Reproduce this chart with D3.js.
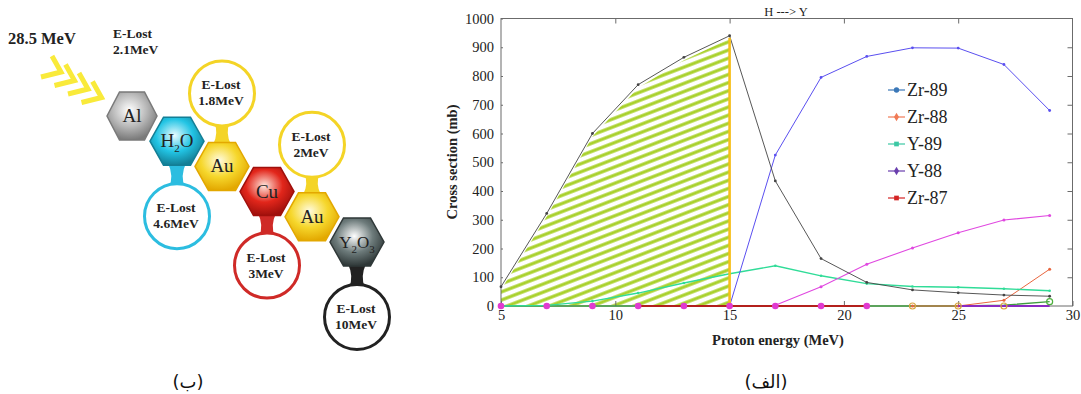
<!DOCTYPE html>
<html>
<head>
<meta charset="utf-8">
<script src="https://cdn.jsdelivr.net/npm/d3@7"></script>
<style>
  body { margin: 0; background: #fff; }
  svg { display: block; }
</style>
</head>
<body>
<svg id="canvas" width="1081" height="394"></svg>
<script>
// ---- data ----
const energies = [5, 7, 9, 11, 13, 15, 17, 19, 21, 23, 25, 27, 29];
const curveBlack = [67, 322, 600, 770, 865, 940, 435, 165, 82, 56, 46, 38, 34];
const curveBlue = [null, null, null, null, null, 0, 525, 795, 868, 898, 897, 840, 680];
const curveMagenta = [null, null, null, null, null, null, 3, 67, 145, 202, 255, 299, 315];
const curveTeal = [0, 2, 17, 45, 80, 112, 140, 105, 78, 68, 65, 60, 53];
const curveOrange = [null, null, null, null, null, null, null, null, null, 0, 0, 20, 128];
const curveGreen = [0, 0, 0, 0, 0, 0, 0, 0, 0, 0, 0, 3, 15];
const curveRed = [null, null, null, 0, 0, 0, 0, 0, 0, null, null, null, null];
const curvePurple = [null, null, null, null, null, null, null, null, null, null, 0, 0, 0];
const zeroDots = [0, 0, 0, 0, 0, 0, 0, 0, 0, null, null, null, null];
const hollowDots = [null, null, null, null, null, null, null, null, null, 0, 0, 0, 15];
const hatchUpTo = 15;

const legendLabels = ["Zr-89", "Zr-88", "Y-89", "Y-88", "Zr-87"];
const yTicks = [0, 100, 200, 300, 400, 500, 600, 700, 800, 900, 1000];
const xTicks = [5, 10, 15, 20, 25, 30];

// stack of targets (left diagram)
const targets = ["Al", "H2O", "Au", "Cu", "Au", "Y2O3"];
const eLost = ["2.1MeV", "4.6MeV", "1.8MeV", "3MeV", "2MeV", "10MeV"];
const beamEnergy = "28.5 MeV";

// ---- styles ----
const legendColors = ["#3b78b8", "#f07a55", "#3cc8a4", "#6a3fae", "#d42424"];
const legendShapes = [d3.symbolCircle, d3.symbolDiamond, d3.symbolSquare, d3.symbolDiamond, d3.symbolSquare];
const hexColors = {
  Al: ["#ffffff", "#b9b9b9", "#7a7a7a"],
  H2O: ["#e9fbff", "#22c4e4", "#137f96"],
  Au: ["#fffbe0", "#f6d72c", "#e3a800"],
  Cu: ["#ffe6dc", "#e2261b", "#a0100c"],
  Y2O3: ["#ffffff", "#6d7b7b", "#2f3838"]
};
const ringColors = ["none", "#2cbde0", "#f4d426", "#cf2a27", "#f4d426", "#222222"];

const svg = d3.select("#canvas");
const serif = "'Liberation Serif', 'Times New Roman', serif";

// ================= right: chart =================
const x = d3.scaleLinear().domain([5, 30]).range([501, 1072.5]);
const y = d3.scaleLinear().domain([0, 1000]).range([306, 18.5]);

const defs = svg.append("defs");
const pat = defs.append("pattern")
  .attr("id", "hatch")
  .attr("patternUnits", "userSpaceOnUse")
  .attr("width", 10).attr("height", 7.6)
  .attr("patternTransform", "rotate(-21)");
pat.append("rect").attr("width", 10).attr("height", 7.6).attr("fill", "#fff");
pat.append("line")
  .attr("x1", 0).attr("x2", 10).attr("y1", 3.8).attr("y2", 3.8)
  .attr("stroke", "#a9d12c").attr("stroke-width", 3.2);

const chart = svg.append("g");

// hatched area under the black curve
const hatchPts = energies.map((e, i) => [e, curveBlack[i]]).filter(d => d[0] <= hatchUpTo);
const area = d3.area().x(d => x(d[0])).y0(y(0) - 1).y1(d => y(d[1]) + 3);
chart.append("path")
  .datum(hatchPts)
  .attr("d", area)
  .attr("fill", "url(#hatch)");

// frame
chart.append("rect")
  .attr("x", x(5)).attr("y", y(1000))
  .attr("width", x(30) - x(5)).attr("height", y(0) - y(1000))
  .attr("fill", "none").attr("stroke", "#6b6b6b").attr("stroke-width", 1);

function styleAxis(g) {
  g.attr("font-family", serif);
  g.select(".domain").remove();
  g.selectAll(".tick line").attr("stroke", "#6b6b6b");
  g.selectAll("text").attr("font-family", serif).attr("font-size", 14.5).attr("fill", "#222");
}

chart.append("g")
  .attr("transform", `translate(${x(5)},0)`)
  .call(d3.axisLeft(y).tickValues(yTicks).tickFormat(d3.format("d"))
    .tickSizeInner(-2).tickSizeOuter(0).tickPadding(7))
  .call(styleAxis);
chart.append("g")
  .attr("transform", `translate(${x(30)},0)`)
  .call(d3.axisRight(y).tickValues(yTicks.slice(1, -1)).tickSizeInner(-5).tickSizeOuter(0).tickFormat(""))
  .call(styleAxis);
chart.append("g")
  .attr("transform", `translate(0,${y(0)})`)
  .call(d3.axisBottom(x).tickValues(xTicks).tickSizeInner(-5).tickSizeOuter(0).tickPadding(4))
  .call(styleAxis);
chart.append("g")
  .attr("transform", `translate(0,${y(1000)})`)
  .call(d3.axisTop(x).tickValues(xTicks.slice(1, -1)).tickSizeInner(-5).tickSizeOuter(0).tickFormat(""))
  .call(styleAxis);

const line = d3.line()
  .defined(d => d[1] !== null)
  .x(d => x(d[0])).y(d => y(d[1]));
const pts = vals => energies.map((e, i) => [e, vals[i]]);

function drawCurve(vals, color, width, dotR) {
  chart.append("path")
    .datum(pts(vals))
    .attr("d", line)
    .attr("fill", "none")
    .attr("stroke", color)
    .attr("stroke-width", width);
  if (dotR) {
    chart.selectAll(null)
      .data(pts(vals).filter(d => d[1] !== null))
      .enter().append("circle")
      .attr("cx", d => x(d[0])).attr("cy", d => y(d[1]))
      .attr("r", dotR).attr("fill", color);
  }
}

drawCurve(curveGreen, "#3f9d3f", 1.3, 0);
drawCurve(curveRed, "#b3201c", 1.8, 0);
drawCurve(curveOrange, "#e8663f", 1, 1.5);
drawCurve(curvePurple, "#8a2bc2", 1.8, 0);
drawCurve(curveTeal, "#30dc98", 1.4, 1.3);
drawCurve(curveMagenta, "#e048e0", 1.1, 1.5);
drawCurve(curveBlue, "#5a4ff0", 1, 1.4);
drawCurve(curveBlack, "#444", 0.9, 1.4);

// 15 MeV marker line
chart.append("line")
  .attr("x1", x(hatchUpTo)).attr("x2", x(hatchUpTo))
  .attr("y1", y(0)).attr("y2", y(curveBlack[energies.indexOf(hatchUpTo)]) + 2)
  .attr("stroke", "#f6bf1a").attr("stroke-width", 2.6);

// markers on the zero line
chart.selectAll(null)
  .data(pts(zeroDots).filter(d => d[1] !== null))
  .enter().append("circle")
  .attr("cx", d => x(d[0])).attr("cy", d => y(d[1]))
  .attr("r", 3.3).attr("fill", "#e03ad0");
chart.selectAll(null)
  .data(pts(hollowDots).filter(d => d[1] !== null))
  .enter().append("circle")
  .attr("cx", d => x(d[0])).attr("cy", d => y(d[1]))
  .attr("r", 3).attr("fill", "none")
  .attr("stroke", (d, i) => i === 3 ? "#4caf3c" : "#d9a640").attr("stroke-width", 1.2);

// title + axis labels
chart.append("text")
  .attr("x", 786).attr("y", 16)
  .attr("text-anchor", "middle")
  .attr("font-family", serif).attr("font-size", 12.5).attr("fill", "#222")
  .text("H ---> Y");
chart.append("text")
  .attr("transform", `translate(457,162) rotate(-90)`)
  .attr("text-anchor", "middle")
  .attr("font-family", serif).attr("font-weight", "bold").attr("font-size", 14.5).attr("fill", "#222")
  .text("Cross section (mb)");
chart.append("text")
  .attr("x", 778).attr("y", 345)
  .attr("text-anchor", "middle")
  .attr("font-family", serif).attr("font-weight", "bold").attr("font-size", 14.5).attr("fill", "#222")
  .text("Proton energy (MeV)");

// legend
const legend = chart.append("g").attr("transform", "translate(888,90)");
const item = legend.selectAll("g").data(legendLabels).enter().append("g")
  .attr("transform", (d, i) => `translate(0,${i * 27})`);
item.append("line").attr("x1", 0).attr("x2", 17)
  .attr("stroke", (d, i) => legendColors[i]).attr("stroke-width", 1.2);
item.append("path")
  .attr("transform", "translate(8.5,0)")
  .attr("d", (d, i) => d3.symbol(legendShapes[i], 22)())
  .attr("fill", (d, i) => legendColors[i]);
item.append("text")
  .attr("x", 19).attr("dy", "0.35em")
  .attr("font-family", serif).attr("font-size", 18).attr("fill", "#222")
  .text(d => d);

// ================= left: target stack =================
const diag = svg.append("g");
const hexW = 27, hexH = 24;
function hexPath(w, h) {
  return `M${-w},0 L${-w / 2},${-h} L${w / 2},${-h} L${w},0 L${w / 2},${h} L${-w / 2},${h} Z`;
}
const centers = targets.map((t, i) => [132 + i * 45, 116 + i * 25.2]);
// which side the energy bubble sits on (0 = plain label, -1 above, 1 below) and its distance
const bubbleSide = [0, 1, -1, 1, -1, 1];
const bubbleDist = [0, 75, 73, 74, 72, 75];

Object.keys(hexColors).forEach(k => {
  const g = defs.append("radialGradient").attr("id", "grad-" + k)
    .attr("cx", "45%").attr("cy", "38%").attr("r", "62%");
  g.append("stop").attr("offset", "0%").attr("stop-color", hexColors[k][0]);
  g.append("stop").attr("offset", "55%").attr("stop-color", hexColors[k][1]);
  g.append("stop").attr("offset", "100%").attr("stop-color", hexColors[k][2]);
});

// necks + bubbles
targets.forEach((t, i) => {
  const s = bubbleSide[i];
  if (!s) return;
  const [cx, cy] = centers[i];
  const r = 32.5;
  const by = cy + s * bubbleDist[i];
  const y1 = cy + s * (hexH - 2), y2 = by - s * (r - 4), ym = (y1 + y2) / 2;
  diag.append("path")
    .attr("d", `M${cx - 9},${y1} Q${cx - 3},${ym} ${cx - 8},${y2} L${cx + 8},${y2} Q${cx + 3},${ym} ${cx + 9},${y1} Z`)
    .attr("fill", ringColors[i]);
  diag.append("circle")
    .attr("cx", cx).attr("cy", by).attr("r", r)
    .attr("fill", "#fff").attr("stroke", ringColors[i]).attr("stroke-width", 3);
  const tx = diag.append("text")
    .attr("font-family", serif).attr("font-weight", "bold").attr("font-size", 13.5).attr("fill", "#222")
    .attr("text-anchor", "middle");
  tx.append("tspan").attr("x", cx - 1).attr("y", by - 4).text("E-Lost");
  tx.append("tspan").attr("x", cx - 1).attr("y", by + 12).text(eLost[i]);
});

// hexagons
targets.forEach((t, i) => {
  const [cx, cy] = centers[i];
  const g = diag.append("g").attr("transform", `translate(${cx},${cy})`);
  const w = i === 0 ? 25 : hexW;
  g.append("path").attr("d", hexPath(w, hexH))
    .attr("fill", `url(#grad-${t})`)
    .attr("stroke", hexColors[t][2]).attr("stroke-width", 1.5);
  const label = g.append("text")
    .attr("y", 6).attr("text-anchor", "middle")
    .attr("font-family", serif).attr("font-size", t.length > 3 ? 17 : 19).attr("fill", "#222");
  // split chemical formula into element symbols and subscripts
  let sub = false;
  t.match(/[A-Z][a-z]?|\d+/g).forEach(part => {
    if (/\d/.test(part)) {
      label.append("tspan").attr("font-size", 11).attr("dy", 5).text(part);
      sub = true;
    } else {
      label.append("tspan").attr("dy", sub ? -5 : 0).text(part);
      sub = false;
    }
  });
});

// first target: energy label without bubble
const t0 = diag.append("text")
  .attr("font-family", serif).attr("font-weight", "bold").attr("font-size", 13.5).attr("fill", "#222");
t0.append("tspan").attr("x", 113).attr("y", 38).text("E-Lost");
t0.append("tspan").attr("x", 113).attr("y", 54).text(eLost[0]);

// beam energy + chevrons
diag.append("text")
  .attr("x", 8).attr("y", 44)
  .attr("font-family", serif).attr("font-weight", "bold").attr("font-size", 16.5).attr("fill", "#222")
  .text(beamEnergy);
[0, 1, 2, 3].forEach(k => {
  const ox = 60 + k * 13.5, oy = 73 + k * 8.5;
  diag.append("path")
    .attr("d", `M${ox - 8},${oy - 17} L${ox + 1},${oy - 1} L${ox - 19},${oy + 4}`)
    .attr("fill", "none").attr("stroke", "#f9ea3a").attr("stroke-width", 5)
    .attr("stroke-linejoin", "miter");
});

// panel captions
svg.append("text")
  .attr("x", 188).attr("y", 388).attr("text-anchor", "middle")
  .attr("font-family", "'DejaVu Sans', sans-serif").attr("font-size", 18).attr("fill", "#111")
  .text("(ب)");
svg.append("text")
  .attr("x", 766).attr("y", 388).attr("text-anchor", "middle")
  .attr("font-family", "'DejaVu Sans', sans-serif").attr("font-size", 18).attr("fill", "#111")
  .text("(الف)");
</script>
</body>
</html>
